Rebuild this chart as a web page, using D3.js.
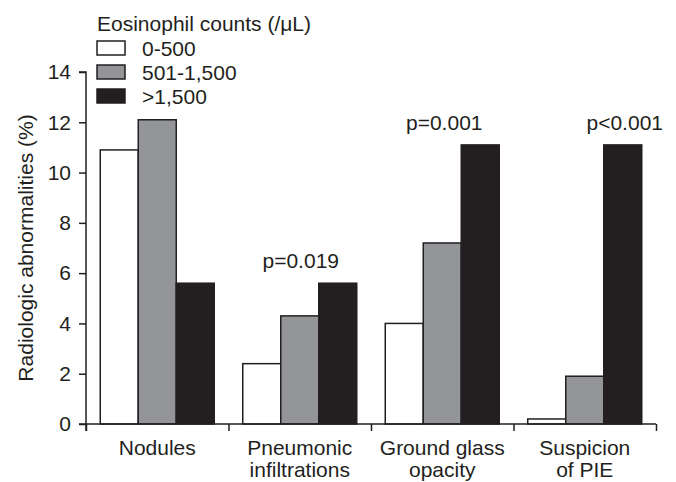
<html>
<head>
<meta charset="utf-8"/>
<script src="https://d3js.org/d3.v7.min.js"></script>
<style>
  body { margin: 0; background: #fff; }
  svg { font-family: "Liberation Sans", Arial, sans-serif; }
</style>
</head>
<body>
<svg id="chart" width="676" height="482"></svg>
<script>
var categories = [["Nodules"], ["Pneumonic", "infiltrations"], ["Ground glass", "opacity"], ["Suspicion", "of PIE"]];
var seriesNames = ["0-500", "501-1,500", ">1,500"];
var seriesColors = ["#ffffff", "#939598", "#231f20"];
var values = [
    [10.9, 12.1, 5.6],
    [2.4, 4.3, 5.6],
    [4.0, 7.2, 11.1],
    [0.2, 1.9, 11.1]
];
var pLabels = ["", "p=0.019", "p=0.001", "p<0.001"];
var yTicks = [0, 2, 4, 6, 8, 10, 12, 14];

var svg = d3.select("#chart");
var mLeft = 86, mRight = 656, mTop = 72, mBottom = 424;
var fs = 21;
// horizontal shift of each p label from the centre of the >1,500 bar
var pShift = [0, -37, -36, 2];

var y = d3.scaleLinear().domain([0, 14]).range([mBottom, mTop]);
var x0 = d3.scaleBand().domain(d3.range(categories.length)).range([mLeft, mRight]).paddingInner(0.2).paddingOuter(0.1);
var xb = d3.scaleLinear().domain([0, categories.length]).range([mLeft, mRight]);
var x1 = d3.scaleBand().domain(d3.range(seriesNames.length)).range([0, x0.bandwidth()]);

// bars
var groups = svg.selectAll("g.grp")
    .data(values)
    .enter().append("g")
    .attr("class", "grp")
    .attr("transform", function (d, i) { return "translate(" + x0(i) + ",0)"; });

groups.selectAll("rect")
    .data(function (d) { return d; })
    .enter().append("rect")
    .attr("x", function (d, j) { return x1(j); })
    .attr("y", function (d) { return y(d); })
    .attr("width", x1.bandwidth())
    .attr("height", function (d) { return y(0) - y(d); })
    .attr("fill", function (d, j) { return seriesColors[j]; })
    .attr("stroke", "#231f20")
    .attr("stroke-width", 1.5);

// y axis
var yAxis = svg.append("g")
    .attr("transform", "translate(" + mLeft + ",0)")
    .call(d3.axisLeft(y).tickValues(yTicks).tickSize(7).tickPadding(8));
yAxis.select(".domain").attr("d", "M-7," + mTop + "H0V" + (mBottom + 7));

// x axis with boundary ticks
var xAxis = svg.append("g")
    .attr("transform", "translate(0," + mBottom + ")")
    .call(d3.axisBottom(xb).ticks(categories.length).tickSize(7).tickFormat(""));
xAxis.select(".domain").attr("d", "M" + (mLeft - 7) + ",0H" + mRight);

svg.selectAll(".tick text").attr("font-size", fs).attr("fill", "#231f20").attr("font-family", "Liberation Sans, Arial, sans-serif");
svg.selectAll(".domain, .tick line").attr("stroke", "#231f20").attr("stroke-width", 1.5);

// category labels
svg.selectAll("text.cat")
    .data(categories)
    .enter().append("text")
    .attr("class", "cat")
    .attr("text-anchor", "middle")
    .attr("font-size", fs)
    .attr("fill", "#231f20")
    .attr("x", function (d, i) { return x0(i) + x0.bandwidth() / 2; })
    .attr("y", 455)
    .each(function (d) {
        var t = d3.select(this);
        d.forEach(function (line, k) {
            t.append("tspan")
                .attr("x", t.attr("x"))
                .attr("dy", k === 0 ? 0 : 22)
                .text(line);
        });
    });

// p values
svg.selectAll("text.pval")
    .data(pLabels)
    .enter().append("text")
    .attr("class", "pval")
    .attr("text-anchor", "middle")
    .attr("font-size", fs)
    .attr("fill", "#231f20")
    .attr("x", function (d, i) { return x0(i) + x1(2) + x1.bandwidth() / 2 + pShift[i]; })
    .attr("y", function (d, i) { return y(values[i][2]) - 15; })
    .text(function (d) { return d; });

// y label
svg.append("text")
    .attr("transform", "translate(33," + ((mTop + mBottom) / 2) + ") rotate(-90)")
    .attr("text-anchor", "middle")
    .attr("font-size", fs)
    .attr("fill", "#231f20")
    .text("Radiologic abnormalities (%)");

// legend
var legend = svg.append("g").attr("transform", "translate(97,0)");
legend.append("text")
    .attr("x", 0).attr("y", 31)
    .attr("font-size", fs)
    .attr("fill", "#231f20")
    .text("Eosinophil counts (/\u03bcL)");
var items = legend.selectAll("g.item")
    .data(seriesNames)
    .enter().append("g")
    .attr("class", "item")
    .attr("transform", function (d, i) { return "translate(0," + (41 + i * 24) + ")"; });
items.append("rect")
    .attr("width", 28).attr("height", 14)
    .attr("fill", function (d, i) { return seriesColors[i]; })
    .attr("stroke", "#231f20").attr("stroke-width", 1.5);
items.append("text")
    .attr("x", 45).attr("y", 15)
    .attr("font-size", fs)
    .attr("fill", "#231f20")
    .text(function (d) { return d; });
</script>
</body>
</html>
